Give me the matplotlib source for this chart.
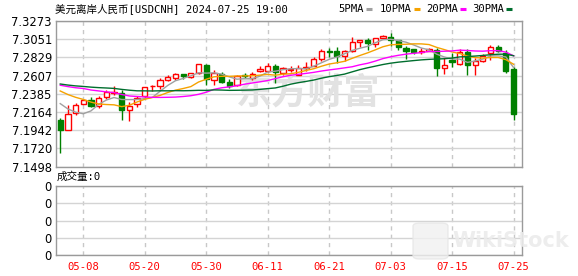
import matplotlib
matplotlib.use("Agg")
import matplotlib.pyplot as plt
from matplotlib.patches import Rectangle, FancyBboxPatch
from matplotlib.lines import Line2D
import numpy as np
import pandas as pd

TITLE = "美元离岸人民币[USDCNH] 2024-07-25 19:00"

dates = pd.bdate_range("2024-05-03", "2024-07-25").strftime("%m-%d").tolist()

opens = [7.2063, 7.1942, 7.2152, 7.2266, 7.2307, 7.2234, 7.2347, 7.2400, 7.2400, 7.2193,
         7.2258, 7.2355, 7.2480, 7.2477, 7.2558, 7.2583, 7.2623, 7.2590, 7.2639, 7.2732,
         7.2550, 7.2631, 7.2529, 7.2489, 7.2617, 7.2578, 7.2668, 7.2668, 7.2724, 7.2643,
         7.2680, 7.2619, 7.2705, 7.2729, 7.2810, 7.2907, 7.2911, 7.2852, 7.2909, 7.3022,
         7.3043, 7.2990, 7.3063, 7.3079, 7.3043, 7.2949, 7.2930, 7.2898, 7.2909, 7.2921,
         7.2699, 7.2800, 7.2748, 7.2901, 7.2731, 7.2788, 7.2881, 7.2961, 7.2881, 7.2685]
highs = [7.2091, 7.2245, 7.2274, 7.2327, 7.2347, 7.2355, 7.2437, 7.2477, 7.2437, 7.2286,
         7.2355, 7.2470, 7.2497, 7.2583, 7.2611, 7.2639, 7.2623, 7.2643, 7.2753, 7.2753,
         7.2680, 7.2651, 7.2571, 7.2619, 7.2639, 7.2651, 7.2729, 7.2757, 7.2753, 7.2712,
         7.2729, 7.2741, 7.2769, 7.2838, 7.2931, 7.2939, 7.2951, 7.2921, 7.3075, 7.3043,
         7.3070, 7.3063, 7.3103, 7.3131, 7.3043, 7.2970, 7.2930, 7.2942, 7.2949, 7.2942,
         7.2821, 7.2881, 7.2933, 7.2933, 7.2821, 7.2869, 7.2982, 7.2982, 7.2921, 7.2716]
lows = [7.1666, 7.1942, 7.2133, 7.2266, 7.2225, 7.2218, 7.2327, 7.2376, 7.2063, 7.2054,
        7.2225, 7.2339, 7.2424, 7.2449, 7.2541, 7.2558, 7.2571, 7.2578, 7.2623, 7.2497,
        7.2497, 7.2517, 7.2456, 7.2480, 7.2583, 7.2550, 7.2651, 7.2651, 7.2519, 7.2611,
        7.2651, 7.2619, 7.2668, 7.2729, 7.2789, 7.2830, 7.2761, 7.2788, 7.2893, 7.2961,
        7.2921, 7.2961, 7.3063, 7.2973, 7.2921, 7.2808, 7.2869, 7.2869, 7.2909, 7.2597,
        7.2627, 7.2707, 7.2739, 7.2618, 7.2618, 7.2779, 7.2792, 7.2893, 7.2639, 7.2063]
closes = [7.1942, 7.2145, 7.2254, 7.2307, 7.2237, 7.2339, 7.2408, 7.2410, 7.2185, 7.2234,
          7.2339, 7.2468, 7.2485, 7.2558, 7.2590, 7.2623, 7.2607, 7.2643, 7.2745, 7.2570,
          7.2639, 7.2529, 7.2480, 7.2599, 7.2607, 7.2631, 7.2688, 7.2729, 7.2651, 7.2699,
          7.2688, 7.2699, 7.2712, 7.2810, 7.2911, 7.2895, 7.2842, 7.2909, 7.3015, 7.3043,
          7.3010, 7.3063, 7.3091, 7.3046, 7.2961, 7.2913, 7.2893, 7.2905, 7.2933, 7.2699,
          7.2739, 7.2772, 7.2901, 7.2731, 7.2788, 7.2852, 7.2961, 7.2909, 7.2666, 7.2139]
volumes = [0] * len(closes)

# closes before 05-03 (not shown), only needed to seed the moving averages
prior_closes = [7.2530, 7.2560, 7.2510, 7.2490, 7.2520, 7.2540, 7.2560, 7.2550, 7.2530, 7.2560,
                7.2480, 7.2530, 7.2490, 7.2610, 7.2560, 7.2640, 7.2580, 7.2650, 7.2600, 7.2460,
                7.2580, 7.2590, 7.2570, 7.2560, 7.2570,
                7.2470, 7.2450, 7.2405, 7.2063]

ma_windows = [5, 10, 20, 30]
ma_labels = ["5PMA", "10PMA", "20PMA", "30PMA"]
ma_colors = ["#a0a0a0", "#f5a200", "#ff00ff", "#006e2e"]

price_ticks = [7.1498, 7.1720, 7.1942, 7.2164, 7.2385, 7.2607, 7.2829, 7.3051, 7.3273]
label_dates = ["05-08", "05-20", "05-30", "06-11", "06-21", "07-03", "07-15", "07-25"]

UP = "#ff0000"
DOWN = "#008000"
GRID = "#d4d4d4"
FRAME = "#9a9a9a"
MONO = ["DejaVu Sans Mono", "Noto Sans CJK SC"]

W, H = 578, 276


def fx(px):
    return px / W


def fy(py):
    return 1 - py / H


def draw_candles(ax):
    bw = 0.68
    for i, (o, h, l, c) in enumerate(zip(opens, highs, lows, closes)):
        color = UP if c >= o else DOWN
        lo, hi = min(o, c), max(o, c)
        ax.vlines(i, l, lo, color=color, lw=1, zorder=3)
        ax.vlines(i, hi, h, color=color, lw=1, zorder=3)
        face = "white" if c >= o else DOWN
        ax.add_patch(Rectangle((i - bw / 2, lo), bw, max(hi - lo, 0.00005),
                               facecolor=face, edgecolor=color, lw=1, zorder=4))


def draw_mas(ax, x):
    series = pd.Series(prior_closes + closes)
    n = len(prior_closes)
    for win, color in zip(ma_windows, ma_colors):
        ma = series.rolling(win).mean().iloc[n:].to_numpy()
        ax.plot(x, ma, color=color, lw=1, zorder=5)


fig = plt.figure(figsize=(W / 100, H / 100), dpi=100)
ax = fig.add_axes([fx(56), fy(166.6), fx(466), 145.6 / H])
vax = fig.add_axes([fx(56), fy(255.3), fx(466), 69.3 / H])

x = np.arange(len(closes))
tick_idx = [dates.index(d) for d in label_dates]

# main price panel
ax.set_xlim(-0.55, 60.1)
ax.set_ylim(price_ticks[0], price_ticks[-1])
ax.set_yticks(price_ticks)
ax.set_yticklabels([f"{v:.4f}" for v in price_ticks], fontsize=8.3, family="DejaVu Sans")
ax.set_xticks(tick_idx)
ax.set_xticklabels([])
ax.tick_params(length=0, pad=3)
ax.grid(axis="y", color=GRID, lw=1, zorder=1)
ax.grid(axis="x", color="#c8c8c8", lw=1, linestyle=(0, (3, 3)), zorder=1)
ax.set_axisbelow(True)

ax.text(fx(308), fy(93), "东方财富", transform=fig.transFigure, ha="center", va="center",
        fontsize=26, fontweight="bold", color="#e2e2e2", family="Noto Sans CJK SC",
        zorder=2)

draw_candles(ax)
draw_mas(ax, x)

# volume panel
vax.bar(x, volumes, width=0.68, color=DOWN)
vax.set_xlim(-0.55, 60.1)
vax.set_ylim(0, 4)
vax.set_yticks([0, 1, 2, 3, 4])
vax.set_yticklabels(["0"] * 5, fontsize=8.3, family="DejaVu Sans")
vax.set_xticks(tick_idx)
vax.set_xticklabels(label_dates, fontsize=7.6, family=MONO, color=UP)
vax.tick_params(length=0, pad=3)
vax.tick_params(axis="x", pad=4.5)
vax.grid(axis="y", color=GRID, lw=1)
vax.grid(axis="x", color="#c8c8c8", lw=1, linestyle=(0, (3, 3)))
vax.set_axisbelow(True)

for a in (ax, vax):
    for sp in a.spines.values():
        sp.set_color(FRAME)
        sp.set_linewidth(1)

# header texts
fig.text(fx(55), fy(9), TITLE, fontsize=7.6, family=MONO, va="center", ha="left")
fig.text(fx(57), fy(177), f"成交量:{volumes[-1]}", fontsize=7.6, family=MONO,
         va="center", ha="left")

legend_x = [338, 380, 426, 472]
for lx, label, color in zip(legend_x, ma_labels, ma_colors):
    t = fig.text(fx(lx), fy(9), label, fontsize=7.6, family=MONO, va="center", ha="left")
    end = lx + 6.2 * len(label) + 3
    fig.add_artist(Line2D([fx(end), fx(end + 6)], [fy(8.7), fy(8.7)],
                          color=color, lw=2.2, solid_capstyle="butt"))

# overlay watermark
fig.add_artist(FancyBboxPatch((fx(413), fy(259)), fx(35), 36 / H,
                              boxstyle="round,pad=0,rounding_size=0.012",
                              facecolor="#f1f1f1", edgecolor="#e6e6e6", lw=1,
                              transform=fig.transFigure, alpha=0.8))
fig.text(fx(511), fy(241), "WikiStock", fontsize=15, fontweight="bold",
         color="#ebebeb", ha="center", va="center", family="DejaVu Sans", alpha=0.9)

fig.savefig("out.png", dpi=100)
plt.close(fig)
